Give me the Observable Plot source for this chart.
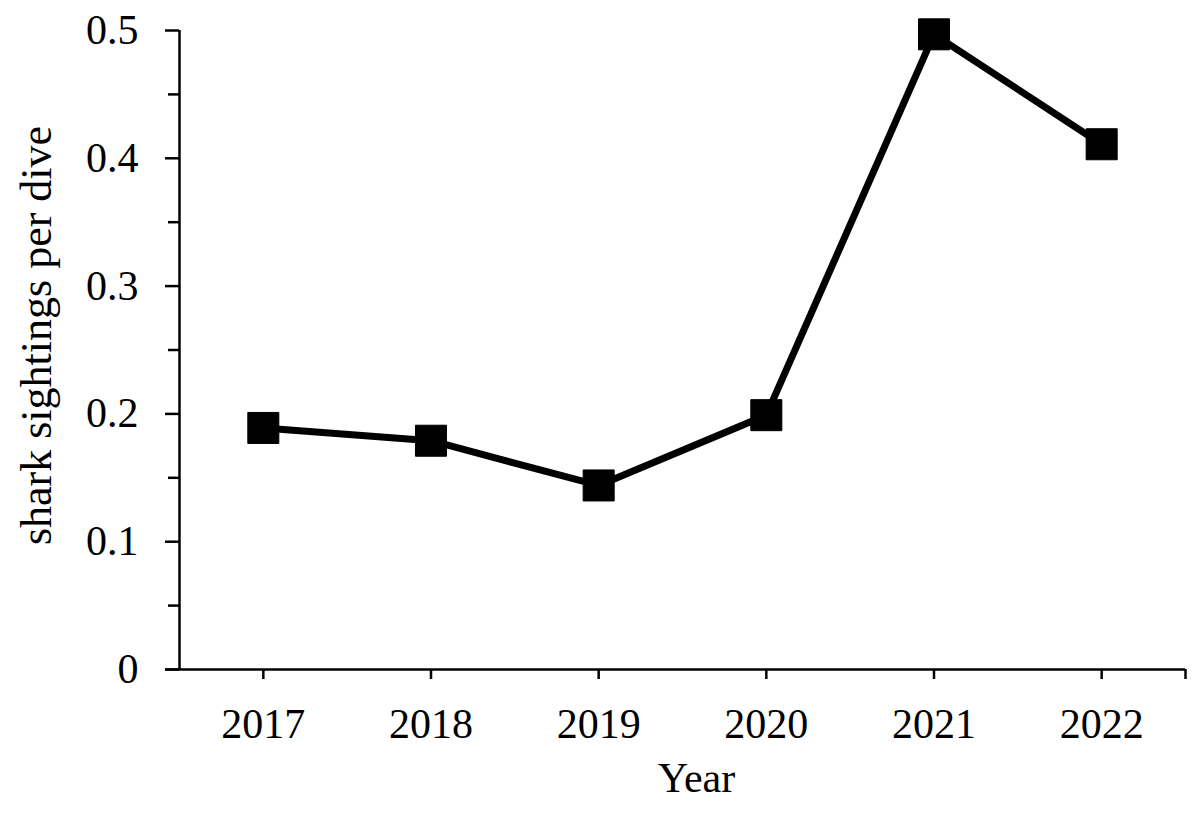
<!DOCTYPE html>
<html>
<head>
<meta charset="utf-8">
<script src="https://cdn.jsdelivr.net/npm/d3@7"></script>
<script src="https://cdn.jsdelivr.net/npm/@observablehq/plot@0.6"></script>
<style>
  html, body { margin: 0; padding: 0; background: #fff; }
  svg { display: block; }
</style>
</head>
<body>
<div id="chart"></div>
<script>
const years = [2017, 2018, 2019, 2020, 2021, 2022];
const sightings = [0.189, 0.179, 0.144, 0.199, 0.497, 0.411];
const yMajorTicks = [0, 0.1, 0.2, 0.3, 0.4, 0.5];
const yMinorTicks = [0.05, 0.15, 0.25, 0.35, 0.45];
const xTicks = [2017, 2018, 2019, 2020, 2021, 2022, 2022.5];
const xTitle = "Year";
const yTitle = "shark sightings per dive";

const data = years.map((year, i) => ({year, value: sightings[i]}));
const font = "'Liberation Serif', 'Times New Roman', serif";

const chart = Plot.plot({
  width: 1200,
  height: 823,
  marginLeft: 179,
  marginRight: 15,
  marginTop: 30,
  marginBottom: 154,
  style: {fontFamily: font, fontSize: "42px", color: "#000", background: "#fff"},
  x: {type: "linear", domain: [2016.5, 2022.5]},
  y: {domain: [0, 0.5]},
  marks: [
    Plot.axisY(yMinorTicks, {tickSize: 11, strokeWidth: 2.5, tickFormat: () => "", label: null}),
    Plot.axisY(yMajorTicks, {tickSize: 14, tickPadding: 27, strokeWidth: 2.5, fontSize: 42, tickFormat: d => d === 0 ? "0" : d.toFixed(1), label: null}),
    Plot.axisX(xTicks, {tickSize: 10, tickPadding: 29, strokeWidth: 2.5, fontSize: 42, tickFormat: d => d % 1 ? "" : String(d), label: null}),
    Plot.ruleX([2016.5], {y1: 0, y2: 0.5, stroke: "#000", strokeWidth: 2.5}),
    Plot.ruleY([0], {stroke: "#000", strokeWidth: 2.5, insetLeft: -14}),
    Plot.line(data, {x: "year", y: "value", stroke: "#000", strokeWidth: 7, strokeLinejoin: "round"}),
    Plot.dot(data, {x: "year", y: "value", symbol: "square", r: 17.5, fill: "#000", stroke: "#000", strokeWidth: 1, strokeLinejoin: "round"}),
    Plot.text([xTitle], {frameAnchor: "bottom", textAnchor: "middle", dx: 14, dy: 122, fontSize: 42, fill: "#000"}),
    Plot.text([yTitle], {frameAnchor: "left", textAnchor: "middle", rotate: -90, dx: -143, dy: -14.5, fontSize: 44, fill: "#000"})
  ]
});
document.getElementById("chart").appendChild(chart);
</script>
</body>
</html>
